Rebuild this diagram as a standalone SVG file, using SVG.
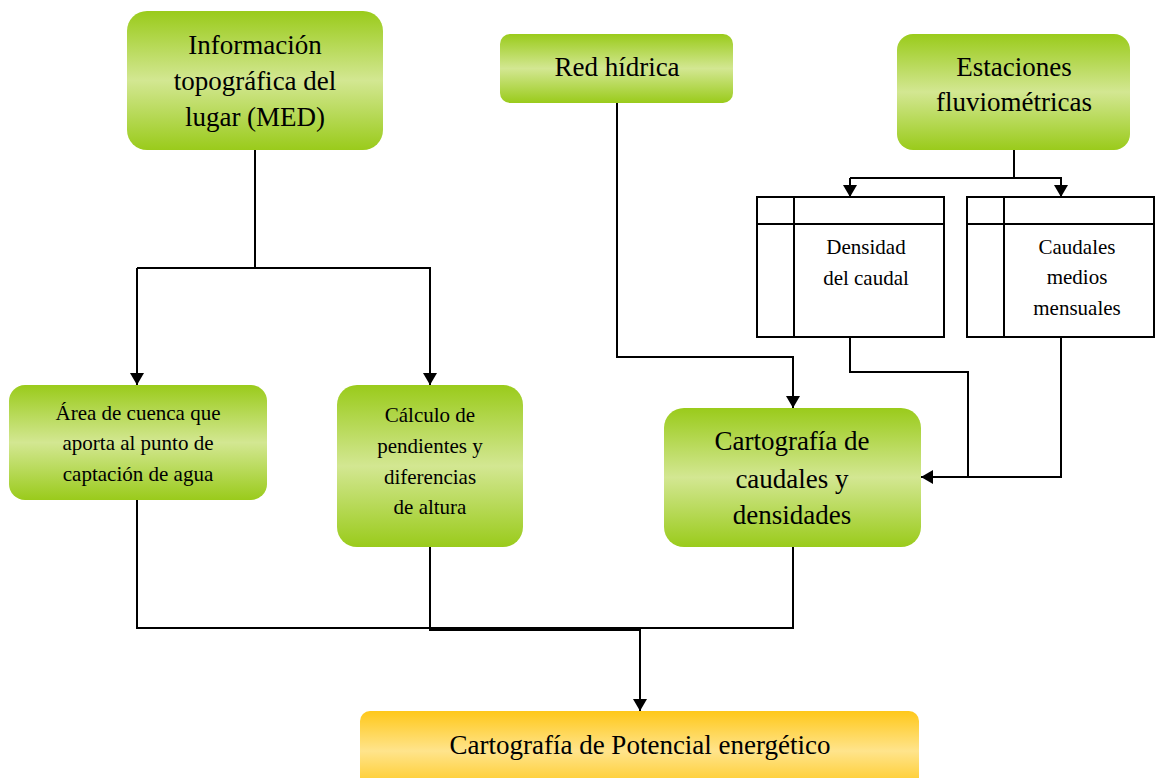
<svg xmlns="http://www.w3.org/2000/svg" width="1157" height="778" viewBox="0 0 1157 778">
<defs>
<linearGradient id="gg" x1="0" y1="0" x2="0" y2="1">
<stop offset="0" stop-color="#9acb1b"/>
<stop offset="0.5" stop-color="#d3e792"/>
<stop offset="1" stop-color="#9acb1b"/>
</linearGradient>
<linearGradient id="go" x1="0" y1="0" x2="0" y2="1">
<stop offset="0" stop-color="#ffc81a"/>
<stop offset="0.5" stop-color="#ffe48c"/>
<stop offset="1" stop-color="#ffc81a"/>
</linearGradient>
<marker id="ar" viewBox="0 0 12 14" refX="12" refY="7" markerWidth="12" markerHeight="14" markerUnits="userSpaceOnUse" orient="auto">
<path d="M0,0 L12,7 L0,14 Z" fill="#000"/>
</marker>
</defs>
<style>
.g{fill:url(#gg);stroke:none}
.o{fill:url(#go);stroke:none}
text{font-family:'Liberation Serif','Times New Roman',Times,Tinos,'Noto Serif','DejaVu Serif',Georgia,serif;fill:#000;text-anchor:middle}
.l{font-size:27px}
.m{font-size:21px}
.c{fill:none;stroke:#000;stroke-width:2}
.a{fill:none;stroke:#000;stroke-width:2;marker-end:url(#ar)}
.b{fill:#fff;stroke:#000;stroke-width:2}
</style>
<g id="connectors">
<path class="c" d="M255,150 V268 H137"/>
<path class="a" d="M137,268 V385"/>
<path class="a" d="M255,268 H430 V385"/>
<path class="a" d="M617,103 V357 H793 V408"/>
<path class="c" d="M1014,150 V178 H850"/>
<path class="a" d="M850,178 V197"/>
<path class="a" d="M1014,178 H1061 V197"/>
<path class="c" d="M850,337 V372 H968 V477"/>
<path class="a" d="M1061,337 V477 H921"/>
<path class="c" d="M137,500 V628 H793 V547"/>
<path class="c" d="M430,547 V630 H640"/>
<path class="a" d="M640,628 V711"/>
</g>
<g id="n-med">
<rect class="g" x="127" y="11" width="256" height="139" rx="20"/>
<text class="l" x="255" y="54">Información</text>
<text class="l" x="255" y="90">topográfica del</text>
<text class="l" x="255" y="126">lugar (MED)</text>
</g>
<g id="n-red">
<rect class="g" x="500" y="34" width="233" height="69" rx="10"/>
<text class="l" x="617" y="76">Red hídrica</text>
</g>
<g id="n-est">
<rect class="g" x="897" y="34" width="233" height="116" rx="16"/>
<text class="l" x="1014" y="76">Estaciones</text>
<text class="l" x="1014" y="111">fluviométricas</text>
</g>
<g id="n-dens">
<rect class="b" x="757" y="197" width="187" height="140"/>
<path class="c" d="M757,224 H944 M794,197 V337"/>
<text class="m" x="866" y="254">Densidad</text>
<text class="m" x="866" y="285">del caudal</text>
</g>
<g id="n-caud">
<rect class="b" x="967" y="197" width="187" height="140"/>
<path class="c" d="M967,224 H1154 M1004,197 V337"/>
<text class="m" x="1077" y="254">Caudales</text>
<text class="m" x="1077" y="284">medios</text>
<text class="m" x="1077" y="315">mensuales</text>
</g>
<g id="n-area">
<rect class="g" x="9" y="385" width="258" height="115" rx="16"/>
<text class="m" x="138" y="420">Área de cuenca que</text>
<text class="m" x="138" y="450">aporta al punto de</text>
<text class="m" x="138" y="481">captación de agua</text>
</g>
<g id="n-calc">
<rect class="g" x="337" y="385" width="186" height="162" rx="20"/>
<text class="m" x="430" y="422">Cálculo de</text>
<text class="m" x="430" y="453">pendientes y</text>
<text class="m" x="430" y="484">diferencias</text>
<text class="m" x="430" y="514">de altura</text>
</g>
<g id="n-cart">
<rect class="g" x="664" y="408" width="257" height="139" rx="20"/>
<text class="l" x="792" y="450">Cartografía de</text>
<text class="l" x="792" y="488">caudales y</text>
<text class="l" x="792" y="524">densidades</text>
</g>
<g id="n-pot">
<rect class="o" x="360" y="711" width="559" height="80" rx="10"/>
<text class="l" x="640" y="754">Cartografía de Potencial energético</text>
</g>
</svg>
